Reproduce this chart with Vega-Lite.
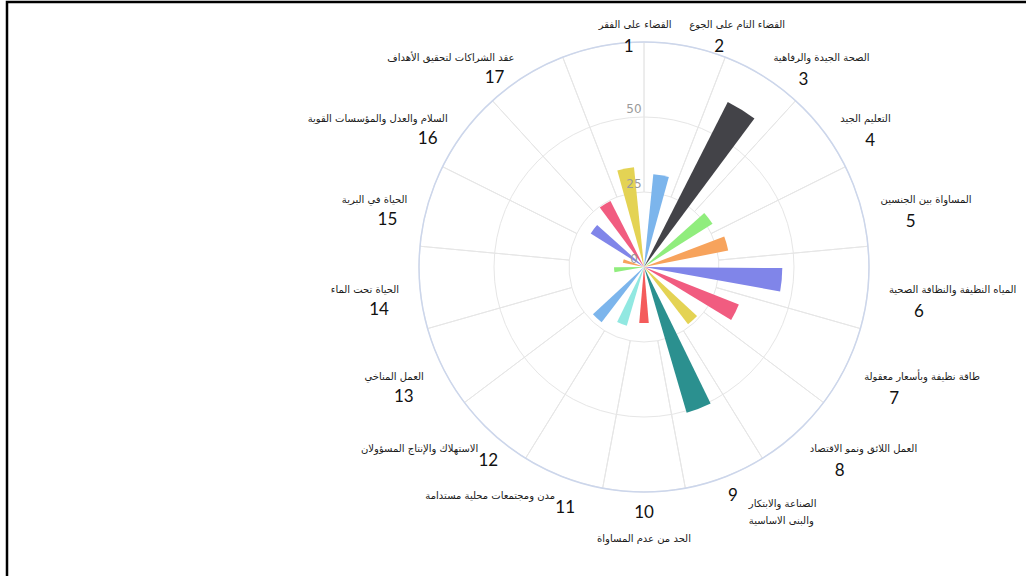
{
  "$schema": "https://vega.github.io/schema/vega-lite/v6.json",
  "width": 1274,
  "height": 574,
  "autosize": {"type": "none"},
  "padding": {"left": 7, "top": 2, "right": -255, "bottom": 0},
  "background": "#ffffff",
  "view": {"stroke": "#000000", "strokeWidth": 2.5, "strokeDash": [1274, 1848, 574]},
  "config": {
    "view": {"stroke": "#000000", "strokeWidth": 2.5, "strokeDash": [1274, 1848, 574]},
    "style": {"view": {"stroke": "#000000", "strokeWidth": 2.5, "strokeDash": [1274, 1848, 574]}}
  },
  "data": {"values": [
    {"id": 1, "name": "القضاء على الفقر", "value": 33.4},
    {"id": 2, "name": "القضاء التام على الجوع", "value": 31.1},
    {"id": 3, "name": "الصحة الجيدة والرفاهية", "value": 61.7},
    {"id": 4, "name": "التعليم الجيد", "value": 27},
    {"id": 5, "name": "المساواة بين الجنسين", "value": 28.6},
    {"id": 6, "name": "المياه النظيفة والنظافة الصحية", "value": 46.1},
    {"id": 7, "name": "طاقة نظيفة وبأسعار معقولة", "value": 34},
    {"id": 8, "name": "العمل اللائق ونمو الاقتصاد", "value": 24.1},
    {"id": 9, "name": "الصناعة والابتكار\nوالبنى الاساسية", "value": 50.6},
    {"id": 10, "name": "الحد من عدم المساواة", "value": 18.7},
    {"id": 11, "name": "مدن ومجتمعات محلية مستدامة", "value": 20.4},
    {"id": 12, "name": "الاستهلاك والإنتاج المسؤولان", "value": 23.2},
    {"id": 13, "name": "العمل المناخي", "value": 0},
    {"id": 14, "name": "الحياة تحت الماء", "value": 10},
    {"id": 15, "name": "الحياة في البرية", "value": 7.2},
    {"id": 16, "name": "السلام والعدل والمؤسسات القوية", "value": 21},
    {"id": 17, "name": "عقد الشراكات لتحقيق الأهداف", "value": 24.7}
  ]},
  "layer": [
    {
      "mark": {"type": "arc", "filled": false, "stroke": "#e6e6e6", "strokeWidth": 1, "yOffset": -22},
      "encoding": {
        "theta": {"field": "id", "type": "ordinal", "scale": {"type": "band", "domain": [1,2,3,4,5,6,7,8,9,10,11,12,13,14,15,16,17], "range": [-0.369599, 5.913586], "paddingInner": 0, "paddingOuter": 0}},
        "radius": {"datum": 75, "type": "quantitative", "scale": {"type": "linear", "domain": [0, 75], "range": [0, 225], "zero": true}},
        "radius2": {"datum": 25}
      }
    },
    {
      "data": {"values": [{"ring": "mid"}]},
      "mark": {"type": "arc", "filled": false, "stroke": "#e6e6e6", "strokeWidth": 1, "yOffset": -22},
      "encoding": {
        "theta": {"value": 0},
        "theta2": {"value": 6.2832},
        "radius": {"datum": 50, "type": "quantitative"}
      }
    },
    {
      "mark": {"type": "arc", "padAngle": 0.2, "stroke": null, "yOffset": -22},
      "encoding": {
        "theta": {"field": "id", "type": "ordinal"},
        "radius": {"field": "value", "type": "quantitative"},
        "color": {"field": "id", "type": "ordinal", "legend": null, "scale": {"domain": [1,2,3,4,5,6,7,8,9,10,11,12,13,14,15,16,17], "range": ["#e4d354","#7cb5ec","#434348","#90ed7d","#f7a35c","#8085e9","#f15c80","#e4d354","#2b908f","#f45b5b","#91e8e1","#7cb5ec","#434348","#90ed7d","#f7a35c","#8085e9","#f15c80"]}}
      }
    },
    {
      "data": {"values": [{"ring": "outer"}]},
      "mark": {"type": "arc", "filled": false, "stroke": "#ccd6eb", "strokeWidth": 1.5, "yOffset": -22},
      "encoding": {
        "theta": {"value": 0},
        "theta2": {"value": 6.2832},
        "radius": {"datum": 75, "type": "quantitative"}
      }
    },
    {
      "data": {"values": [{"v": 0}, {"v": 25}, {"v": 50}]},
      "mark": {"type": "text", "dx": -10, "dy": -8, "yOffset": -22, "fill": "#9a9a9a", "fontSize": 12, "font": "DejaVu Sans", "align": "center", "baseline": "middle"},
      "encoding": {
        "theta": {"value": 0},
        "radius": {"field": "v", "type": "quantitative"},
        "text": {"field": "v", "type": "quantitative"}
      }
    },
    {
      "transform": [{"filter": "datum.id <= 8"}],
      "mark": {"type": "text", "align": "left", "baseline": "middle", "yOffset": -22, "font": "DejaVu Sans", "fontSize": 10, "fill": "#1a1a1a"},
      "encoding": {
        "theta": {"field": "id", "type": "ordinal"},
        "radius": {"datum": 82, "type": "quantitative"},
        "text": {"field": "name"}
      }
    },
    {
      "transform": [{"filter": "datum.id == 9"}],
      "mark": {"type": "text", "align": "left", "baseline": "middle", "yOffset": -22, "font": "DejaVu Sans", "fontSize": 10, "fill": "#1a1a1a", "lineBreak": "\n", "dx": 16, "dy": 8, "lineHeight": 17},
      "encoding": {
        "theta": {"field": "id", "type": "ordinal"},
        "radius": {"datum": 82, "type": "quantitative"},
        "text": {"field": "name"}
      }
    },
    {
      "transform": [{"filter": "datum.id == 10"}],
      "mark": {"type": "text", "align": "center", "baseline": "middle", "yOffset": -22, "font": "DejaVu Sans", "fontSize": 10, "fill": "#1a1a1a", "dy": 26},
      "encoding": {
        "theta": {"field": "id", "type": "ordinal"},
        "radius": {"datum": 82, "type": "quantitative"},
        "text": {"field": "name"}
      }
    },
    {
      "transform": [{"filter": "datum.id >= 11"}],
      "mark": {"type": "text", "align": "right", "baseline": "middle", "yOffset": -22, "font": "DejaVu Sans", "fontSize": 10, "fill": "#1a1a1a"},
      "encoding": {
        "theta": {"field": "id", "type": "ordinal"},
        "radius": {"datum": 82, "type": "quantitative"},
        "text": {"field": "name"}
      }
    },
    {
      "transform": [{"filter": "datum.id <= 8"}],
      "mark": {"type": "text", "align": "center", "baseline": "middle", "yOffset": -22, "font": "Lato", "fontSize": 17, "fill": "#111111", "dx": 30, "dy": 22},
      "encoding": {
        "theta": {"field": "id", "type": "ordinal"},
        "radius": {"datum": 82, "type": "quantitative"},
        "text": {"field": "id", "type": "ordinal"}
      }
    },
    {
      "transform": [{"filter": "datum.id == 9 || datum.id == 10"}],
      "mark": {"type": "text", "align": "center", "baseline": "middle", "yOffset": -22, "font": "Lato", "fontSize": 17, "fill": "#111111"},
      "encoding": {
        "theta": {"field": "id", "type": "ordinal"},
        "radius": {"datum": 82, "type": "quantitative"},
        "text": {"field": "id", "type": "ordinal"}
      }
    },
    {
      "transform": [{"filter": "datum.id == 11 || datum.id == 12"}],
      "mark": {"type": "text", "align": "center", "baseline": "middle", "yOffset": -22, "font": "Lato", "fontSize": 17, "fill": "#111111", "dx": 10, "dy": 12},
      "encoding": {
        "theta": {"field": "id", "type": "ordinal"},
        "radius": {"datum": 82, "type": "quantitative"},
        "text": {"field": "id", "type": "ordinal"}
      }
    },
    {
      "transform": [{"filter": "datum.id >= 13"}],
      "mark": {"type": "text", "align": "center", "baseline": "middle", "yOffset": -22, "font": "Lato", "fontSize": 17, "fill": "#111111", "dx": -20, "dy": 20},
      "encoding": {
        "theta": {"field": "id", "type": "ordinal"},
        "radius": {"datum": 82, "type": "quantitative"},
        "text": {"field": "id", "type": "ordinal"}
      }
    }
  ]
}
